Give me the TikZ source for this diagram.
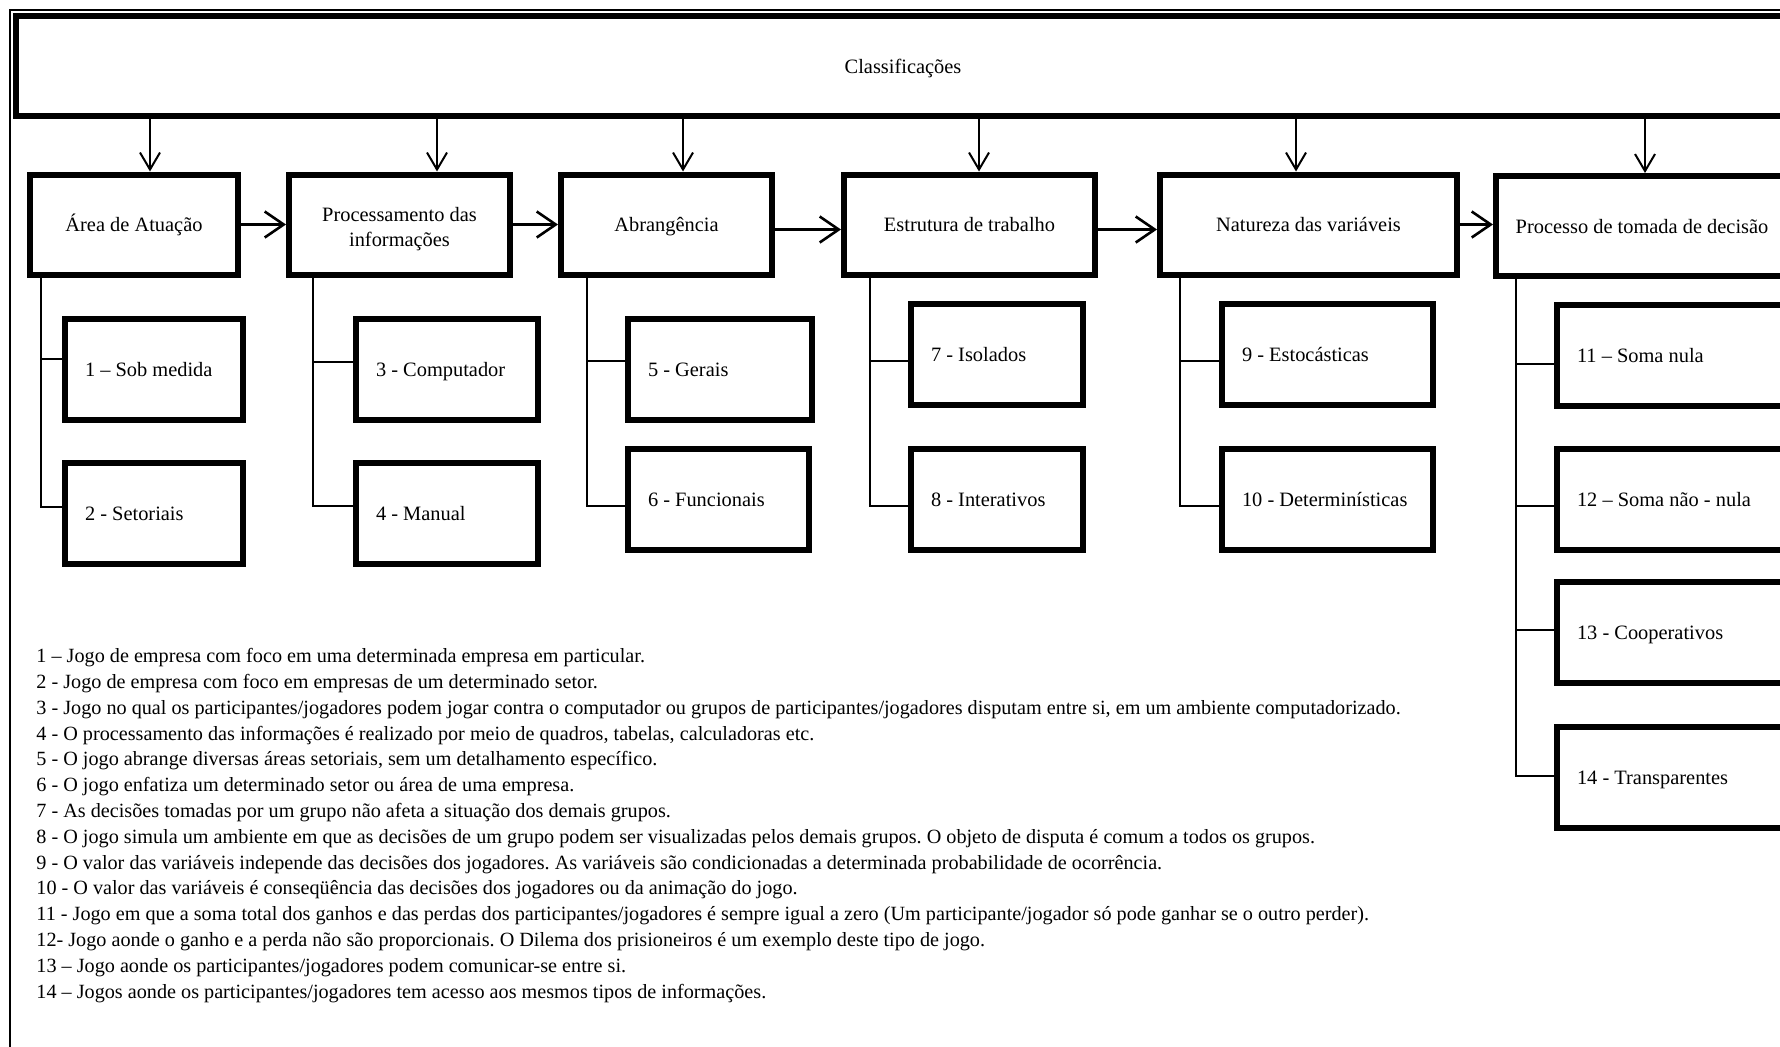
\documentclass[tikz,border=0pt]{standalone}
\usepackage{fontspec}
\setmainfont{Liberation Serif}
\frenchspacing
\usetikzlibrary{arrows.meta}

\begin{document}
\begin{tikzpicture}[x=0.5pt,y=-0.5pt,
    font=\fontsize{10.2}{12.5}\selectfont,
    caixa/.style={draw, line width=3pt, minimum height=50pt, align=flush center, inner sep=2pt, text height=9.5pt, text depth=2.3pt},
    folha/.style={draw, line width=3pt, minimum height=50.5pt, text width=#1, align=flush left, inner xsep=10pt, inner ysep=2pt, text height=9.5pt, text depth=2.3pt},
    seta/.style={line width=1pt, -{Straight Barb[length=8.5pt,width=10pt]}},
    passo/.style={line width=1.3pt, -{Straight Barb[length=9.5pt,width=13pt]}},
    ramo/.style={line width=1pt}]
    \useasboundingbox (0,0) rectangle (1780,1046);
    \clip (0,0) rectangle (1780,1046);
    % Moldura
    \draw[line width=1pt] (10,1100) |- (1850,10);
    % Caixa superior
    \node[caixa, minimum width=887pt] (class) at (903,66) {Classificações};
    % Categorias
    \node[caixa, minimum width=104pt] (area) at (134,224.5) {Área de Atuação};
    \node[caixa, minimum width=110.5pt, text height=, text depth=] (proc) at (399.5,224.5) {\rule{0pt}{11.5pt}Processamento das\\informações};
    \node[caixa, minimum width=105.5pt] (abr) at (666.5,224.5) {Abrangência};
    \node[caixa, minimum width=125.5pt] (est) at (969.5,224.5) {Estrutura de trabalho};
    \node[caixa, minimum width=148.5pt] (nat) at (1308.5,224.5) {Natureza das variáveis};
    \node[caixa, minimum width=146pt] (dec) at (1642,226) {Processo de tomada de decisão};
    % Tipos
    \node[folha=69pt] (c1) at (154,369) {1 – Sob medida};
    \node[folha=69pt] (c2) at (154,513.5) {2 - Setoriais};
    \node[folha=71pt] (c3) at (447,369) {3 - Computador};
    \node[folha=71pt] (c4) at (447,513.5) {4 - Manual};
    \node[folha=72pt] (c5) at (720,369) {5 - Gerais};
    \node[folha=70.5pt] (c6) at (718.5,499.5) {6 - Funcionais};
    \node[folha=66pt] (c7) at (997,354.5) {7 - Isolados};
    \node[folha=66pt] (c8) at (997,499.5) {8 - Interativos};
    \node[folha=85.5pt] (c9) at (1327.5,354.5) {9 - Estocásticas};
    \node[folha=85.5pt] (c10) at (1327.5,499.5) {10 - Determinísticas};
    \node[folha=100pt] (c11) at (1677,355) {11 – Soma nula};
    \node[folha=100pt] (c12) at (1677,499.5) {12 – Soma não - nula};
    \node[folha=100pt] (c13) at (1677,632.5) {13 - Cooperativos};
    \node[folha=100pt] (c14) at (1677,777) {14 - Transparentes};
    % Setas para baixo
    \foreach \n/\x in {area/150, proc/437, abr/683, est/979, nat/1296, dec/1645}
        \draw[seta] (class.south -| \x,0) -- (\n.north -| \x,0);
    % Setas entre categorias
    \draw[passo] (area.east) -- (proc.west);
    \draw[passo] (proc.east) -- (abr.west);
    \draw[passo] ([yshift=-2.5pt]abr.east) -- ([yshift=-2.5pt]est.west);
    \draw[passo] ([yshift=-2.5pt]est.east) -- ([yshift=-2.5pt]nat.west);
    \draw[passo] (nat.east) -- (nat.east -| dec.west);
    % Ramos
    \foreach \c/\y in {c1/359, c2/507} \draw[ramo] (area.south -| 41,0) |- (\c.west |- 0,\y);
    \foreach \c/\y in {c3/362, c4/506} \draw[ramo] (proc.south -| 313,0) |- (\c.west |- 0,\y);
    \foreach \c/\y in {c5/361, c6/506} \draw[ramo] (abr.south -| 587,0) |- (\c.west |- 0,\y);
    \foreach \c/\y in {c7/361, c8/506} \draw[ramo] (est.south -| 870,0) |- (\c.west |- 0,\y);
    \foreach \c/\y in {c9/361, c10/506} \draw[ramo] (nat.south -| 1180,0) |- (\c.west |- 0,\y);
    \foreach \c/\y in {c11/364, c12/506, c13/630, c14/776} \draw[ramo] (dec.south -| 1516,0) |- (\c.west |- 0,\y);
    % Legenda
    \node[anchor=north west, inner sep=0pt, align=flush left, font=\fontsize{10.1}{12.9}\selectfont] (legenda) at (36,648) {%
        1 – Jogo de empresa com foco em uma determinada empresa em particular.\\
        2 - Jogo de empresa com foco em empresas de um determinado setor.\\
        3 - Jogo no qual os participantes/jogadores podem jogar contra o computador ou grupos de participantes/jogadores disputam entre si, em um ambiente computadorizado.\\
        4 - O processamento das informações é realizado por meio de quadros, tabelas, calculadoras etc.\\
        5 - O jogo abrange diversas áreas setoriais, sem um detalhamento específico.\\
        6 - O jogo enfatiza um determinado setor ou área de uma empresa.\\
        7 - As decisões tomadas por um grupo não afeta a situação dos demais grupos.\\
        8 - O jogo simula um ambiente em que as decisões de um grupo podem ser visualizadas pelos demais grupos. O objeto de disputa é comum a todos os grupos.\\
        9 - O valor das variáveis independe das decisões dos jogadores. As variáveis são condicionadas a determinada probabilidade de ocorrência.\\
        10 - O valor das variáveis é conseqüência das decisões dos jogadores ou da animação do jogo.\\
        11 - Jogo em que a soma total dos ganhos e das perdas dos participantes/jogadores é sempre igual a zero (Um participante/jogador só pode ganhar se o outro perder).\\
        12- Jogo aonde o ganho e a perda não são proporcionais. O Dilema dos prisioneiros é um exemplo deste tipo de jogo.\\
        13 – Jogo aonde os participantes/jogadores podem comunicar-se entre si.\\
        14 – Jogos aonde os participantes/jogadores tem acesso aos mesmos tipos de informações.};
\end{tikzpicture}
\end{document}
